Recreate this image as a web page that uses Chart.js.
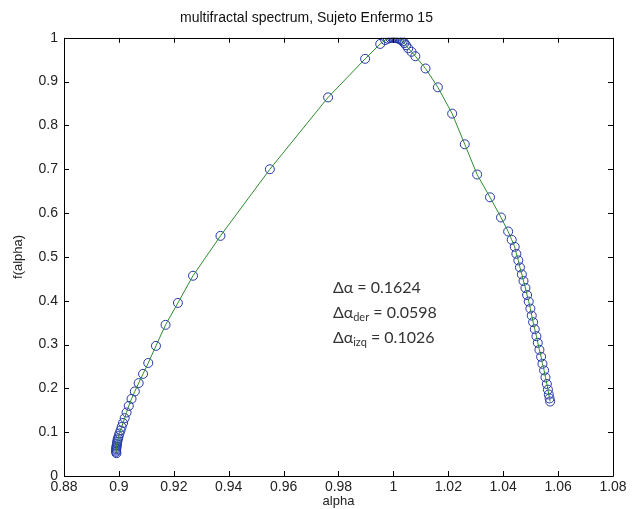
<!DOCTYPE html>
<html>
<head>
    <title>multifractal spectrum</title>
    <script src="https://cdn.jsdelivr.net/npm/chart.js"></script>
    <style>
        body { margin: 0; background: #fff; }
        .chart-container { width: 634px; height: 509px; }
    </style>
</head>
<body>
    <div class="chart-container">
        <canvas id="spectrumChart" width="634" height="509"></canvas>
    </div>
    <script>
        // alpha (x) and f(alpha) (y), ordered along the curve
        const alphaValues = [
            0.8991, 0.8990, 0.8990, 0.8990, 0.8991, 0.8991, 0.8992, 0.8993, 0.8994, 0.8995,
            0.8997, 0.8999, 0.9002, 0.9006, 0.9010, 0.9015, 0.9021, 0.9028, 0.9036, 0.9046,
            0.9058, 0.9072, 0.9088, 0.9107, 0.9135, 0.9170, 0.9215, 0.9270, 0.9370, 0.9550,
            0.9762, 0.9897, 0.9952, 0.9970, 0.9980, 0.9988, 0.9995, 1.0000, 1.0005, 1.0010,
            1.0016, 1.0022, 1.0028, 1.0034, 1.0040, 1.0046, 1.0054, 1.0066, 1.0080, 1.0117,
            1.0162, 1.0214, 1.0260, 1.0305, 1.0352, 1.0392, 1.0418, 1.0431, 1.0442, 1.0448,
            1.0455, 1.0461, 1.0468, 1.0474, 1.0481, 1.0487, 1.0493, 1.0499, 1.0504, 1.0509,
            1.0515, 1.0521, 1.0526, 1.0532, 1.0538, 1.0543, 1.0549, 1.0554, 1.0559, 1.0563,
            1.0566, 1.0569, 1.0571
        ];
        const fAlphaValues = [
            0.052, 0.055, 0.058, 0.061, 0.064, 0.067, 0.070, 0.074, 0.078, 0.082,
            0.086, 0.091, 0.097, 0.104, 0.112, 0.121, 0.132, 0.145, 0.160, 0.176,
            0.193, 0.212, 0.233, 0.258, 0.297, 0.345, 0.395, 0.457, 0.548, 0.700,
            0.864, 0.952, 0.986, 0.995, 0.998, 0.9995, 1.000, 1.000, 1.000, 0.9995,
            0.9985, 0.997, 0.995, 0.992, 0.988, 0.983, 0.976, 0.968, 0.958, 0.930,
            0.887, 0.827, 0.757, 0.688, 0.636, 0.590, 0.558, 0.539, 0.523, 0.507,
            0.492, 0.476, 0.460, 0.445, 0.429, 0.413, 0.398, 0.382, 0.366, 0.351,
            0.335, 0.319, 0.304, 0.288, 0.272, 0.256, 0.241, 0.225, 0.210, 0.197,
            0.186, 0.177, 0.170
        ];

        const xTicks = [0.88, 0.9, 0.92, 0.94, 0.96, 0.98, 1, 1.02, 1.04, 1.06, 1.08];
        const yTicks = [0, 0.1, 0.2, 0.3, 0.4, 0.5, 0.6, 0.7, 0.8, 0.9, 1];

        const chartTitle = 'multifractal spectrum, Sujeto Enfermo 15';
        const xTitle = 'alpha';
        const yTitle = 'f(alpha)';

        // annotation lines: subscript, value, anchor in data units
        const deltaSubs = ['', 'der', 'izq'];
        const deltaValues = ['0.1624', '0.0598', '0.1026'];
        const deltaAnchorX = 0.978;
        const deltaAnchorY = [0.43, 0.372, 0.315];

        const points = alphaValues.map((a, i) => ({ x: a, y: fAlphaValues[i] }));

        const tickFont = { family: 'Liberation Sans, Arial, sans-serif', size: 14 };

        // MATLAB style box with inward ticks on all four sides
        const boxPlugin = {
            id: 'boxPlugin',
            afterDatasetsDraw(chart) {
                const { ctx, chartArea: a, scales: { x, y } } = chart;
                ctx.save();
                ctx.strokeStyle = '#000';
                ctx.lineWidth = 1;
                ctx.beginPath();
                ctx.rect(Math.round(a.left) + 0.5, Math.round(a.top) + 0.5,
                         Math.round(a.right - a.left), Math.round(a.bottom - a.top));
                const len = 5;
                xTicks.forEach(v => {
                    const px = Math.round(x.getPixelForValue(v)) + 0.5;
                    ctx.moveTo(px, a.bottom); ctx.lineTo(px, a.bottom - len);
                    ctx.moveTo(px, a.top); ctx.lineTo(px, a.top + len);
                });
                yTicks.forEach(v => {
                    const py = Math.round(y.getPixelForValue(v)) + 0.5;
                    ctx.moveTo(a.left, py); ctx.lineTo(a.left + len, py);
                    ctx.moveTo(a.right, py); ctx.lineTo(a.right - len, py);
                });
                ctx.stroke();

                // delta alpha text box
                ctx.fillStyle = '#333';
                ctx.textBaseline = 'middle';
                const x0 = x.getPixelForValue(deltaAnchorX);
                deltaValues.forEach((val, i) => {
                    const py = y.getPixelForValue(deltaAnchorY[i]);
                    let cx = x0;
                    ctx.font = '16px Lato, "Open Sans", sans-serif';
                    ctx.fillText('\u0394\u03b1', cx, py);
                    cx += ctx.measureText('\u0394\u03b1').width;
                    if (deltaSubs[i]) {
                        ctx.font = '11px Lato, "Open Sans", sans-serif';
                        ctx.fillText(deltaSubs[i], cx, py + 4);
                        cx += ctx.measureText(deltaSubs[i]).width;
                    }
                    ctx.font = '16px Lato, "Open Sans", sans-serif';
                    ctx.fillText(' = ' + val, cx, py);
                });
                ctx.restore();
            }
        };

        new Chart(document.getElementById('spectrumChart'), {
            type: 'scatter',
            data: {
                datasets: [{
                    data: points,
                    showLine: true,
                    borderColor: '#2e8b2e',
                    borderWidth: 1,
                    pointRadius: 0,
                    tension: 0
                }, {
                    data: points,
                    showLine: false,
                    pointStyle: 'circle',
                    pointRadius: 4.5,
                    pointBorderWidth: 1,
                    pointBorderColor: '#2336a8',
                    pointBackgroundColor: 'rgba(255,255,255,0)'
                }]
            },
            options: {
                responsive: false,
                animation: false,
                devicePixelRatio: 1,
                layout: { padding: { left: 0, right: 21, top: 0, bottom: 0 } },
                plugins: {
                    legend: { display: false },
                    tooltip: { enabled: false },
                    title: {
                        display: true,
                        text: chartTitle,
                        color: '#111',
                        font: { family: 'Liberation Sans, Arial, sans-serif', size: 14, weight: 'normal' },
                        padding: { top: 10, bottom: 11 }
                    }
                },
                scales: {
                    x: {
                        type: 'linear',
                        min: 0.88,
                        max: 1.08,
                        afterBuildTicks: s => { s.ticks = xTicks.map(v => ({ value: v })); },
                        afterFit: s => { s.height = 33; },
                        grid: { display: false, drawTicks: false },
                        border: { display: false },
                        ticks: {
                            color: '#222',
                            font: tickFont,
                            padding: 3,
                            maxRotation: 0,
                            autoSkip: false,
                            callback: v => String(Number(v.toFixed(2)))
                        },
                        title: {
                            display: true,
                            text: xTitle,
                            color: '#222',
                            font: { family: 'Liberation Sans, Arial, sans-serif', size: 13 },
                            padding: { top: 0, bottom: 0 }
                        }
                    },
                    y: {
                        type: 'linear',
                        min: 0,
                        max: 1,
                        afterBuildTicks: s => { s.ticks = yTicks.map(v => ({ value: v })); },
                        afterFit: s => { s.width = 64; },
                        grid: { display: false, drawTicks: false },
                        border: { display: false },
                        ticks: {
                            color: '#222',
                            font: tickFont,
                            padding: 6,
                            autoSkip: false,
                            callback: v => String(Number(v.toFixed(1)))
                        },
                        title: {
                            display: true,
                            text: yTitle,
                            color: '#222',
                            font: { family: 'Liberation Sans, Arial, sans-serif', size: 13 },
                            padding: { top: 11, bottom: 0 }
                        }
                    }
                }
            },
            plugins: [boxPlugin]
        });
    </script>
</body>
</html>
